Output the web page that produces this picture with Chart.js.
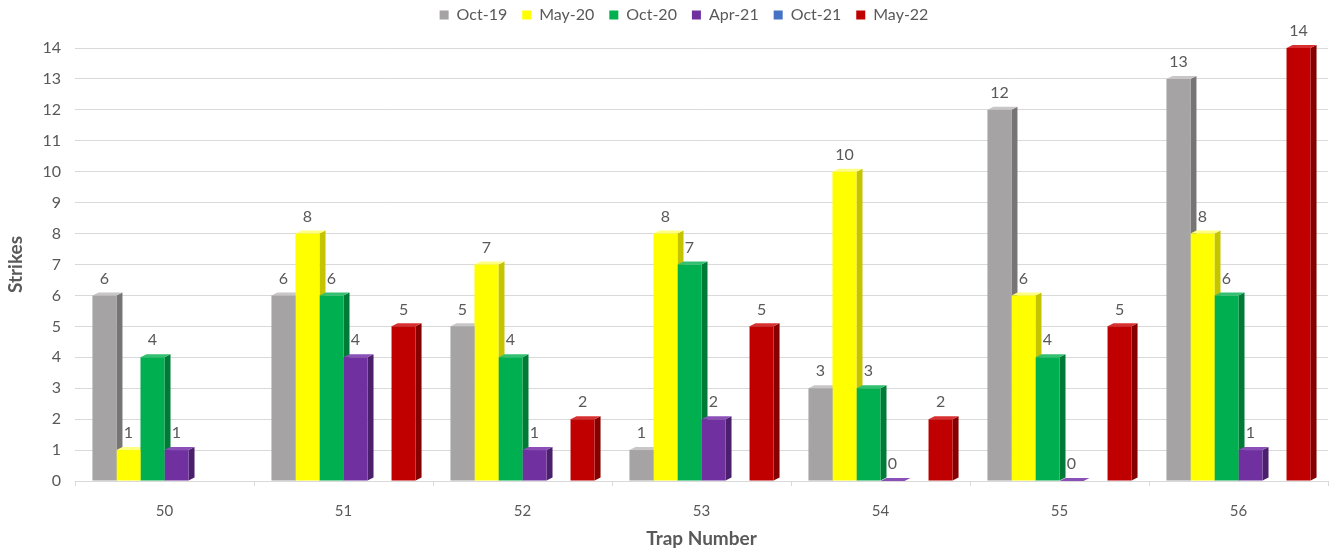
<!DOCTYPE html>
<html>
<head>
<meta charset="utf-8">
<script src="https://cdn.jsdelivr.net/npm/chart.js@4"></script>
<style>
  html, body { margin: 0; padding: 0; background: #fff; }
  #wrap { width: 1336px; height: 554px; }
</style>
</head>
<body>
<div id="wrap"><canvas id="barChart"></canvas></div>
<script>
var traps = ['50', '51', '52', '53', '54', '55', '56'];
var oct19 = [6, 6, 5, 1, 3, 12, 13];
var may20 = [1, 8, 7, 8, 10, 6, 8];
var oct20 = [4, 6, 4, 7, 3, 4, 6];
var apr21 = [1, 4, 1, 2, 0, 0, 1];
var oct21 = [null, null, null, null, null, null, null];
var may22 = [null, 5, 2, 5, 2, 5, 14];
var yTicks = [0, 14];

var textColor = '#595959';
var fontName = 'Lato, "Noto Sans", sans-serif';

// front colour, side colour, top colour
var palette = [
  ['#a5a3a4', '#767474', '#c8c6c7'],
  ['#ffff00', '#c4c400', '#ffff80'],
  ['#00b050', '#007a37', '#33c070'],
  ['#7030a0', '#4b1f6c', '#8a50b8'],
  ['#4472c4', '#2f5597', '#6a90d4'],
  ['#c00000', '#860000', '#d83030']
];

var depthX = 6, depthY = 3;

// darker side + lighter top, drawn behind the bars so neighbours cover them
var bars3d = {
  id: 'bars3d',
  afterInit: function(chart) {
    // keep the legend box tall enough that the plot starts at the right height
    var lg = chart.legend;
    if (lg) {
      var fit = lg.fit;
      lg.fit = function() {
        fit.call(this);
        this.height = 58;
      };
      var draw = lg.draw;
      lg.draw = function() {
        var c = this.ctx;
        c.save();
        c.translate(20, 2);
        draw.call(this);
        c.restore();
      };
    }
  },
  beforeDatasetsDraw: function(chart) {
    var ctx = chart.ctx;
    chart.data.datasets.forEach(function(ds, i) {
      var meta = chart.getDatasetMeta(i);
      meta.data.forEach(function(bar, j) {
        if (ds.data[j] === null) return;
        var l = bar.x - bar.width / 2, r = bar.x + bar.width / 2;
        ctx.save();
        ctx.fillStyle = palette[i][1];
        ctx.beginPath();
        ctx.moveTo(r, bar.y);
        ctx.lineTo(r + depthX, bar.y - depthY);
        ctx.lineTo(r + depthX, bar.base - depthY);
        ctx.lineTo(r, bar.base);
        ctx.closePath();
        ctx.fill();
        ctx.fillStyle = palette[i][2];
        ctx.beginPath();
        ctx.moveTo(l, bar.y);
        ctx.lineTo(l + depthX, bar.y - depthY);
        ctx.lineTo(r + depthX, bar.y - depthY);
        ctx.lineTo(r, bar.y);
        ctx.closePath();
        ctx.fill();
        ctx.restore();
      });
    });
  },
  afterDatasetsDraw: function(chart) {
    var ctx = chart.ctx;
    ctx.save();
    ctx.fillStyle = textColor;
    ctx.font = '16px ' + fontName;
    ctx.textAlign = 'center';
    ctx.textBaseline = 'bottom';
    chart.data.datasets.forEach(function(ds, i) {
      var meta = chart.getDatasetMeta(i);
      meta.data.forEach(function(bar, j) {
        if (ds.data[j] === null) return;
        ctx.fillText(String(ds.data[j]), bar.x, bar.y - 9);
      });
    });
    ctx.restore();
  }
};

var names = ['Oct-19', 'May-20', 'Oct-20', 'Apr-21', 'Oct-21', 'May-22'];
var series = [oct19, may20, oct20, apr21, oct21, may22];

var barData = {
  labels: traps,
  datasets: series.map(function(s, i) {
    return {
      label: names[i],
      data: s,
      backgroundColor: palette[i][0],
      borderWidth: 0,
      categoryPercentage: 0.805,
      barPercentage: 1.0
    };
  })
};

var barOptions = {
  responsive: true,
  maintainAspectRatio: false,
  animation: false,
  layout: { padding: { top: -10, right: 8, left: 0, bottom: 0 } },
  plugins: {
    legend: {
      position: 'top',
      labels: {
        boxWidth: 9,
        boxHeight: 9,
        padding: 15,
        color: textColor,
        font: { family: fontName, size: 16 }
      }
    },
    tooltip: { enabled: false }
  },
  scales: {
    x: {
      grid: { display: true, drawOnChartArea: false, offset: true, tickLength: 5, color: '#d9d9d9' },
      border: { display: false },
      ticks: { color: textColor, font: { family: fontName, size: 15 }, padding: 16 },
      title: {
        display: true,
        text: 'Trap Number',
        color: textColor,
        font: { family: fontName, size: 19, weight: 'bold' },
        padding: { top: 6 }
      },
      afterFit: function(scale) { scale.height = 73; }
    },
    y: {
      min: yTicks[0],
      max: yTicks[1],
      ticks: { stepSize: 1, color: textColor, font: { family: fontName, size: 16 }, padding: 14 },
      grid: { color: '#d9d9d9', drawTicks: false },
      border: { display: false },
      title: {
        display: true,
        text: 'Strikes',
        color: textColor,
        font: { family: fontName, size: 19, weight: 'bold' }
      },
      afterFit: function(scale) { scale.width = 75; }
    }
  }
};

var ctx = document.getElementById('barChart').getContext('2d');
new Chart(ctx, { type: 'bar', data: barData, options: barOptions, plugins: [bars3d] });
</script>
</body>
</html>
